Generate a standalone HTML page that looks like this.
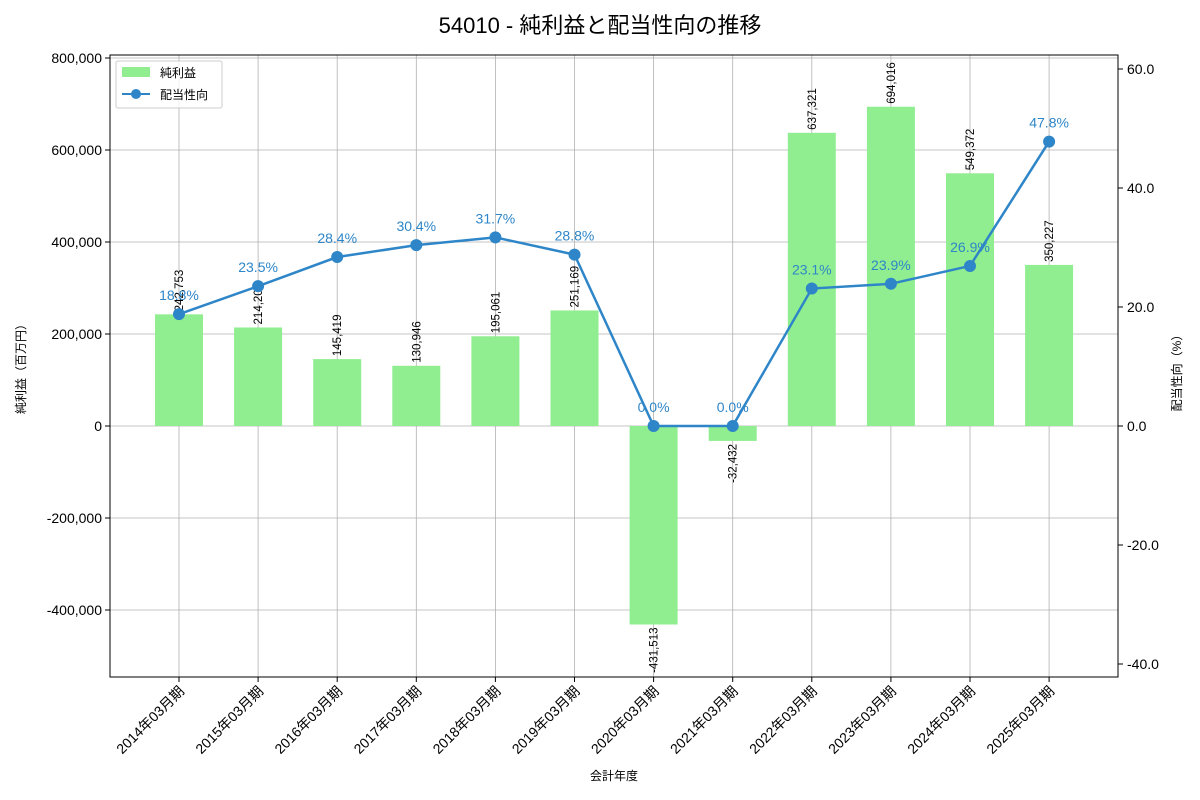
<!DOCTYPE html>
<html><head><meta charset="utf-8"><style>
html,body{margin:0;padding:0;background:#fff;}
svg{display:block;font-family:"Liberation Sans","Noto Sans CJK JP",sans-serif;}
</style></head><body>
<svg id="chart" width="1200" height="800" viewBox="0 0 1200 800">
<rect width="1200" height="800" fill="#fff"/>
<text x="600" y="33" text-anchor="middle" font-size="22" fill="#000">54010 - 純利益と配当性向の推移</text>
<g id="grid"></g>
<g id="bars"></g>
<g id="line"></g>
<g id="axes"></g>
<rect x="110" y="55" width="1008" height="622" fill="none" stroke="#000" stroke-width="1"/>
<g>
<rect x="116" y="61" width="106" height="47" fill="#fff" fill-opacity="0.8" stroke="#ccc" rx="2"/>
<rect x="122" y="67" width="28" height="10" fill="#90ee90"/>
<text x="160" y="77" font-size="12">純利益</text>
<line x1="122" y1="94" x2="150" y2="94" stroke="#2e86c8" stroke-width="2"/>
<circle cx="136" cy="94" r="5" fill="#2e86c8"/>
<text x="160" y="99" font-size="12">配当性向</text>
</g>
<text x="614" y="780" text-anchor="middle" font-size="12">会計年度</text>
<text transform="translate(25,366) rotate(-90)" text-anchor="middle" font-size="12">純利益（百万円）</text>
<text transform="translate(1181,370) rotate(-90)" text-anchor="middle" font-size="12">配当性向（%）</text>
</svg>
<script>
const categories=["2014年03月期","2015年03月期","2016年03月期","2017年03月期","2018年03月期","2019年03月期","2020年03月期","2021年03月期","2022年03月期","2023年03月期","2024年03月期","2025年03月期"];
const netIncome=[242753,214200,145419,130946,195061,251169,-431513,-32432,637321,694016,549372,350227];
const payoutRatio=[18.8,23.5,28.4,30.4,31.7,28.8,0.0,0.0,23.1,23.9,26.9,47.8];
const leftTicks=[-400000,-200000,0,200000,400000,600000,800000];
const rightTicks=[-40,-20,0,20,40,60];

const NS="http://www.w3.org/2000/svg";
function xPos(i){return 179+i*79.1;}
function yL(v){return 426-v*92/200000;}
function yR(v){return 426-v*119/20;}
function mk(parent,tag,attrs,text){const e=document.createElementNS(NS,tag);for(const k in attrs)e.setAttribute(k,attrs[k]);if(text!==undefined)e.textContent=text;document.getElementById(parent).appendChild(e);return e;}
function fmt(v){return v.toLocaleString("en-US");}

leftTicks.forEach(t=>{
 const g=mk("grid","line",{x1:110,x2:1118,y1:yL(t),y2:yL(t),stroke:"#b0b0b0","stroke-width":0.8});
 
 
 const tk=mk("axes","line",{x1:105,x2:110,y1:yL(t),y2:yL(t),stroke:"#000"});
 
 
 const l=mk("axes","text",{x:102,y:yL(t)+5,"text-anchor":"end","font-size":14},fmt(t));
 
 
});
rightTicks.forEach(t=>{
 const tk=mk("axes","line",{x1:1118,x2:1123,y1:yR(t),y2:yR(t),stroke:"#000"});
 
 
 const l=mk("axes","text",{x:1127,y:yR(t)+5,"font-size":14},t.toFixed(1));
 
 
});
categories.forEach((c,i)=>{
 const x=xPos(i);
 const g=mk("grid","line",{x1:x,x2:x,y1:55,y2:677,stroke:"#b0b0b0","stroke-width":0.8});
 
 
 const tk=mk("axes","line",{x1:x,x2:x,y1:677,y2:682,stroke:"#000"});
 
 
 const l=mk("axes","text",{transform:`translate(${x+6},${692}) rotate(-45)`,"text-anchor":"end","font-size":14},c);
 
 
});
netIncome.forEach((v,i)=>{
 const x=xPos(i),y0=yL(0),y1=yL(v);
 const r=mk("bars","rect",{x:x-24,y:Math.min(y0,y1),width:48,height:Math.abs(y1-y0),fill:"#90ee90"});
 
 
 const lbl=v>=0?mk("bars","text",{transform:`translate(${x+4},${y1-3}) rotate(-90)`,"font-size":11.5},fmt(v)):mk("bars","text",{transform:`translate(${x+4},${y1+3}) rotate(-90)`,"text-anchor":"end","font-size":11.5},fmt(v));
 
 
});
const pts=payoutRatio.map((v,i)=>xPos(i)+","+yR(v)).join(" ");
const pl=mk("line","polyline",{points:pts,fill:"none",stroke:"#2e86c8","stroke-width":2.5});


payoutRatio.forEach((v,i)=>{
 const c=mk("line","circle",{cx:xPos(i),cy:yR(v),r:6,fill:"#2e86c8"});
 
 
 const t=mk("line","text",{x:xPos(i),y:yR(v)-14,"text-anchor":"middle","font-size":14,fill:"#2e86c8"},v.toFixed(1)+"%");
 
 
});
</script>
</body></html>
